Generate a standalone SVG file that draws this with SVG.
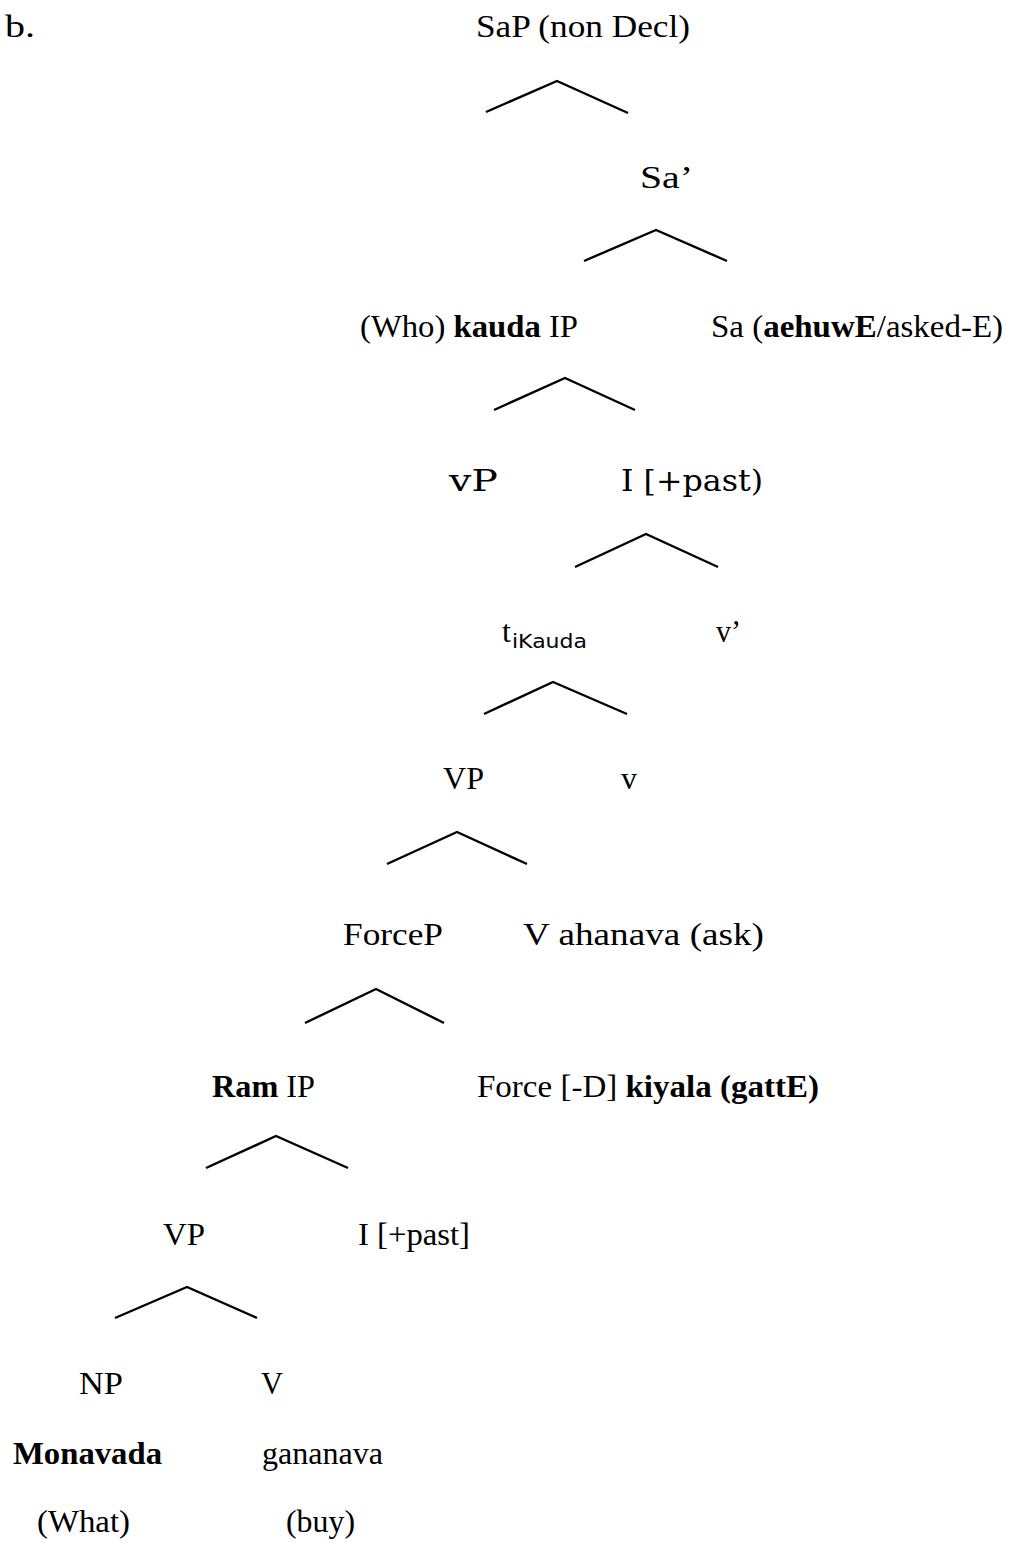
<svg xmlns="http://www.w3.org/2000/svg" width="1014" height="1550" viewBox="0 0 1014 1550">
<style>
text{font-family:"Liberation Serif","Times New Roman",serif;font-size:32px;fill:#000}
.p{font-size:32px}
.d{font-family:"DejaVu Serif","Liberation Serif",serif;font-size:30px}
.b{font-weight:bold}
.sub{font-family:"DejaVu Sans","Liberation Sans",sans-serif;font-size:19px}
.br polyline{fill:none;stroke:#000;stroke-width:2.4}
</style>
<rect width="1014" height="1550" fill="#fff"/>
<text id="label-b" class="p" x="5" y="37" textLength="30" lengthAdjust="spacingAndGlyphs">b.</text>
<g class="br" id="connectors">
<polyline points="486,112 557,81 628,113"/>
<polyline points="584,261 656,230 727,261"/>
<polyline points="494,410 565,378 635,410"/>
<polyline points="575,567 646,534 718,567"/>
<polyline points="484,714 553,682 627,714"/>
<polyline points="387,864 457,832 527,864"/>
<polyline points="305,1023 376,989 444,1023"/>
<polyline points="206,1168 276,1136 348,1168"/>
<polyline points="115,1318 187,1287 257,1318"/>
</g>
<g id="n-SaP"><text class="p" x="476" y="37" textLength="214" lengthAdjust="spacingAndGlyphs">SaP (non Decl)</text></g>
<g id="n-Sa1"><text x="640" y="188" textLength="53" lengthAdjust="spacingAndGlyphs">Sa’</text></g>
<g id="n-kaudaIP"><text x="360" y="337" textLength="218" lengthAdjust="spacingAndGlyphs">(Who) <tspan class="b">kauda</tspan> IP</text></g>
<g id="n-Sa"><text x="711" y="337" textLength="292" lengthAdjust="spacingAndGlyphs">Sa (<tspan class="b">aehuwE</tspan>/asked-E)</text></g>
<g id="n-vP"><text class="d" x="449" y="491" textLength="49" lengthAdjust="spacingAndGlyphs">vP</text></g>
<g id="n-I1"><text class="d" x="621" y="491" textLength="142" lengthAdjust="spacingAndGlyphs">I  [+past)</text></g>
<g id="n-t"><text x="502" y="642">t</text><text class="sub" x="512" y="648" textLength="75" lengthAdjust="spacingAndGlyphs">iKauda</text></g>
<g id="n-v1"><text x="716" y="642" textLength="25" lengthAdjust="spacingAndGlyphs">v’</text></g>
<g id="n-VP1"><text x="443" y="789" textLength="41" lengthAdjust="spacingAndGlyphs">VP</text></g>
<g id="n-v"><text x="621" y="789" textLength="16" lengthAdjust="spacingAndGlyphs">v</text></g>
<g id="n-ForceP"><text class="p" x="343" y="945" textLength="100" lengthAdjust="spacingAndGlyphs">ForceP</text></g>
<g id="n-V1"><text class="p" x="523" y="945" textLength="241" lengthAdjust="spacingAndGlyphs">V  ahanava (ask)</text></g>
<g id="n-RamIP"><text x="212" y="1097" textLength="103" lengthAdjust="spacingAndGlyphs"><tspan class="b">Ram</tspan> IP</text></g>
<g id="n-Force"><text x="477" y="1097" textLength="342" lengthAdjust="spacingAndGlyphs">Force [-D] <tspan class="b">kiyala (gattE)</tspan></text></g>
<g id="n-VP2"><text x="163" y="1245" textLength="42" lengthAdjust="spacingAndGlyphs">VP</text></g>
<g id="n-I2"><text x="358" y="1245" textLength="112" lengthAdjust="spacingAndGlyphs">I [+past]</text></g>
<g id="n-NP"><text x="79" y="1394" textLength="44" lengthAdjust="spacingAndGlyphs">NP</text></g>
<g id="n-V2"><text x="261" y="1394" textLength="22" lengthAdjust="spacingAndGlyphs">V</text></g>
<g id="n-Monavada"><text class="b" x="13" y="1464" textLength="149" lengthAdjust="spacingAndGlyphs">Monavada</text></g>
<g id="n-gananava"><text class="p" x="262" y="1464" textLength="121" lengthAdjust="spacingAndGlyphs">gananava</text></g>
<g id="n-What"><text x="37" y="1532" textLength="93" lengthAdjust="spacingAndGlyphs">(What)</text></g>
<g id="n-buy"><text x="286" y="1532" textLength="69" lengthAdjust="spacingAndGlyphs">(buy)</text></g>
</svg>
